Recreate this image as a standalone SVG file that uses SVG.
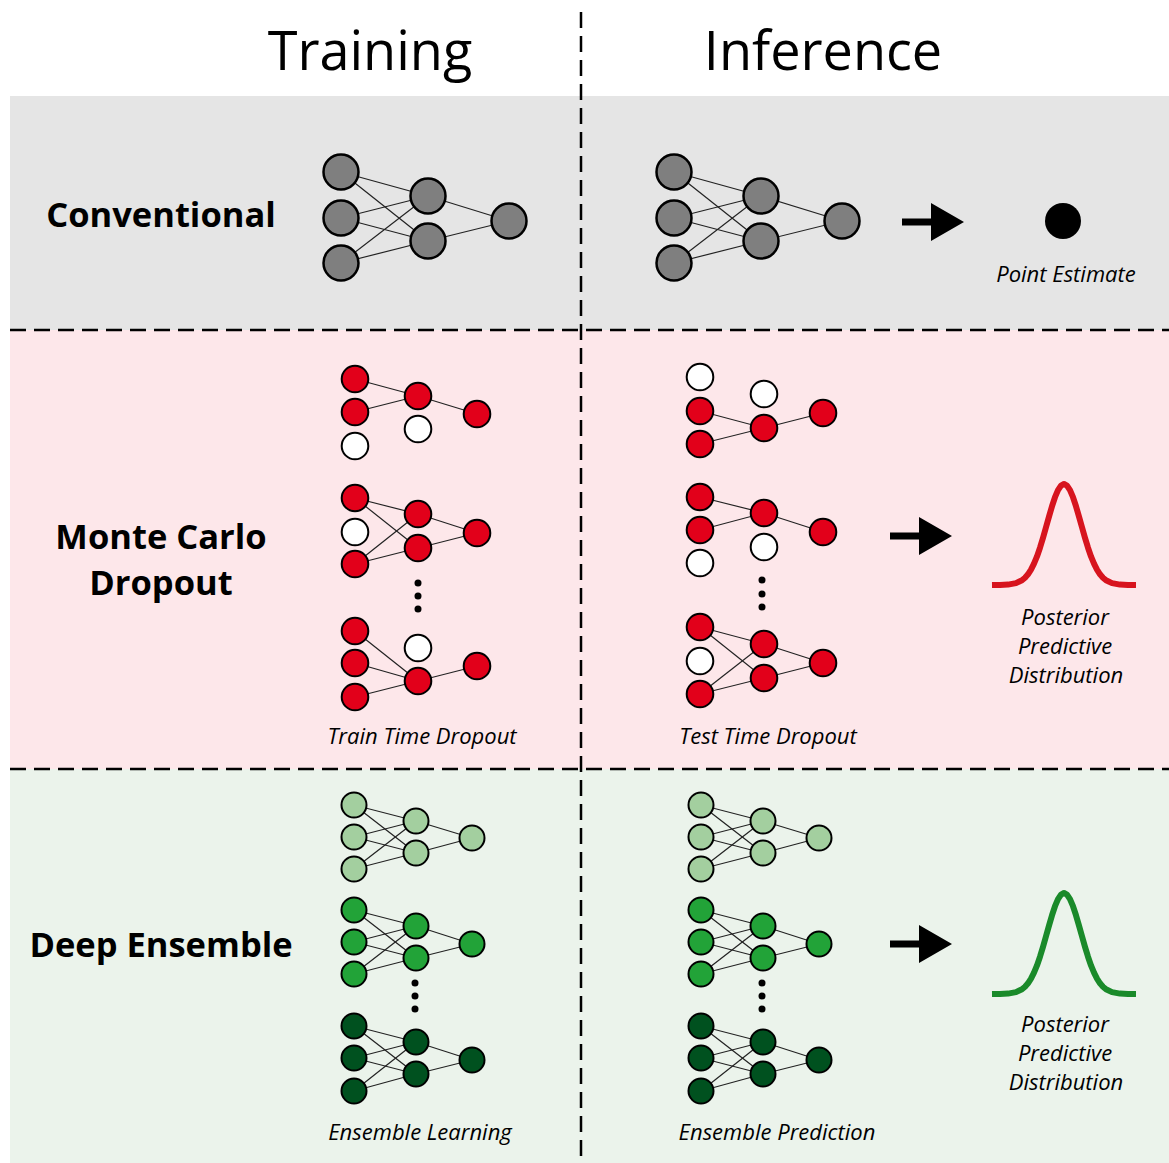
<svg xmlns="http://www.w3.org/2000/svg" xmlns:xlink="http://www.w3.org/1999/xlink" width="1169" height="1163" viewBox="0 0 1169 1163">
  <style>
    .e { stroke: #222; stroke-width: 1.2; fill: none; }
    .n { stroke: #000; stroke-width: 2; }
    .big { stroke-width: 2.5; }
    .gray { fill: #7f7f7f; }
    .red { fill: #e2001a; }
    .off { fill: #ffffff; }
    .g1 { fill: #a3cf9f; }
    .g2 { fill: #22a338; }
    .g3 { fill: #00511f; }
    .dash { stroke: #000; stroke-width: 2.5; stroke-dasharray: 16 8; fill: none; }
    .title { font-family: "Open Sans", "DejaVu Sans", sans-serif; font-size: 54px; fill: #000; text-anchor: middle; }
    .row { font-family: "Open Sans", "DejaVu Sans", sans-serif; font-weight: bold; font-size: 34.5px; fill: #000; text-anchor: middle; }
    .cap { font-family: "Open Sans", "DejaVu Sans", sans-serif; font-style: italic; font-size: 22px; fill: #000; text-anchor: middle; }
    .bell { fill: none; stroke-width: 6; stroke-linejoin: round; stroke-linecap: butt; }
  </style>
  <defs>
    <!-- gaussian bump, origin at the centre of its baseline -->
    <path id="bell" d="M-72,0 L-64,-0.1 L-56,-0.4 L-48,-1.9 L-42,-4.8 L-39,-7.3 L-36,-10.7 L-33,-15.3 L-30,-21.3 L-27,-28.6 L-24,-37.3 L-21,-47.1 L-18,-57.7 L-15,-68.4 L-12,-78.7 L-9,-87.8 L-6,-94.9 L-3,-99.4 L0,-101 L3,-99.4 L6,-94.9 L9,-87.8 L12,-78.7 L15,-68.4 L18,-57.7 L21,-47.1 L24,-37.3 L27,-28.6 L30,-21.3 L33,-15.3 L36,-10.7 L39,-7.3 L42,-4.8 L48,-1.9 L56,-0.4 L64,-0.1 L72,0"/>
    <!-- block arrow, tip at origin -->
    <path id="arrow" d="M-62,-3.5 L-33,-3.5 L-33,-19 L0,0 L-33,19 L-33,3.5 L-62,3.5 Z"/>
  </defs>

  <!-- background bands -->
  <rect x="0" y="0" width="1169" height="1163" fill="#ffffff"/>
  <rect x="10" y="96" width="1159" height="234" fill="#e5e5e5"/>
  <rect x="10" y="330" width="1159" height="439" fill="#fde7ea"/>
  <rect x="10" y="769" width="1159" height="394" fill="#ebf3eb"/>

  <!-- separators -->
  <g id="separators">
    <line class="dash" x1="581" y1="12" x2="581" y2="1163"/>
    <line class="dash" x1="10" y1="330" x2="1169" y2="330"/>
    <line class="dash" x1="10" y1="769" x2="1169" y2="769"/>
  </g>

  <!-- column headings -->
  <text class="title" x="370" y="70">Training</text>
  <text class="title" x="823" y="70">Inference</text>

  <!-- row headings -->
  <text class="row" x="161" y="227">Conventional</text>
  <text class="row" x="161" y="549">Monte Carlo</text>
  <text class="row" x="161" y="595">Dropout</text>
  <text class="row" x="161" y="957">Deep Ensemble</text>

  <!-- network weights -->
  <g id="connectors">
    <!-- conventional, training -->
    <g class="e">
      <line x1="341" y1="172" x2="428" y2="196"/><line x1="341" y1="172" x2="428" y2="241"/>
      <line x1="341" y1="218" x2="428" y2="196"/><line x1="341" y1="218" x2="428" y2="241"/>
      <line x1="341" y1="263" x2="428" y2="196"/><line x1="341" y1="263" x2="428" y2="241"/>
      <line x1="428" y1="196" x2="509" y2="221"/><line x1="428" y1="241" x2="509" y2="221"/>
    </g>
    <!-- conventional, inference -->
    <g class="e">
      <line x1="674" y1="172" x2="761" y2="196"/><line x1="674" y1="172" x2="761" y2="241"/>
      <line x1="674" y1="218" x2="761" y2="196"/><line x1="674" y1="218" x2="761" y2="241"/>
      <line x1="674" y1="263" x2="761" y2="196"/><line x1="674" y1="263" x2="761" y2="241"/>
      <line x1="761" y1="196" x2="842" y2="221"/><line x1="761" y1="241" x2="842" y2="221"/>
    </g>
    <!-- dropout, training -->
    <g class="e">
      <line x1="355" y1="379" x2="418" y2="396"/><line x1="355" y1="412" x2="418" y2="396"/>
      <line x1="418" y1="396" x2="477" y2="414"/>
      <line x1="355" y1="498" x2="418" y2="514"/><line x1="355" y1="498" x2="418" y2="548"/>
      <line x1="355" y1="564" x2="418" y2="514"/><line x1="355" y1="564" x2="418" y2="548"/>
      <line x1="418" y1="514" x2="477" y2="533"/><line x1="418" y1="548" x2="477" y2="533"/>
      <line x1="355" y1="631" x2="418" y2="681"/><line x1="355" y1="663" x2="418" y2="681"/>
      <line x1="355" y1="697" x2="418" y2="681"/>
      <line x1="418" y1="681" x2="477" y2="666"/>
    </g>
    <!-- dropout, inference -->
    <g class="e">
      <line x1="700" y1="411" x2="764" y2="428"/><line x1="700" y1="444" x2="764" y2="428"/>
      <line x1="764" y1="428" x2="823" y2="413"/>
      <line x1="700" y1="497" x2="764" y2="513"/><line x1="700" y1="530" x2="764" y2="513"/>
      <line x1="764" y1="513" x2="823" y2="532"/>
      <line x1="700" y1="627" x2="764" y2="644"/><line x1="700" y1="627" x2="764" y2="678"/>
      <line x1="700" y1="694" x2="764" y2="644"/><line x1="700" y1="694" x2="764" y2="678"/>
      <line x1="764" y1="644" x2="823" y2="663"/><line x1="764" y1="678" x2="823" y2="663"/>
    </g>
    <!-- ensemble, training (three members) -->
    <g class="e" id="ens-edges">
      <line x1="354" y1="805" x2="416" y2="821"/><line x1="354" y1="805" x2="416" y2="853"/>
      <line x1="354" y1="837" x2="416" y2="821"/><line x1="354" y1="837" x2="416" y2="853"/>
      <line x1="354" y1="869" x2="416" y2="821"/><line x1="354" y1="869" x2="416" y2="853"/>
      <line x1="416" y1="821" x2="472" y2="838"/><line x1="416" y1="853" x2="472" y2="838"/>
      <line x1="354" y1="910" x2="416" y2="926"/><line x1="354" y1="910" x2="416" y2="958"/>
      <line x1="354" y1="942" x2="416" y2="926"/><line x1="354" y1="942" x2="416" y2="958"/>
      <line x1="354" y1="974" x2="416" y2="926"/><line x1="354" y1="974" x2="416" y2="958"/>
      <line x1="416" y1="926" x2="472" y2="944"/><line x1="416" y1="958" x2="472" y2="944"/>
      <line x1="354" y1="1026" x2="416" y2="1042"/><line x1="354" y1="1026" x2="416" y2="1074"/>
      <line x1="354" y1="1058" x2="416" y2="1042"/><line x1="354" y1="1058" x2="416" y2="1074"/>
      <line x1="354" y1="1091" x2="416" y2="1042"/><line x1="354" y1="1091" x2="416" y2="1074"/>
      <line x1="416" y1="1042" x2="472" y2="1060"/><line x1="416" y1="1074" x2="472" y2="1060"/>
    </g>
    <!-- ensemble, inference: same members shifted right -->
    <use xlink:href="#ens-edges" href="#ens-edges" x="347" y="0"/>
  </g>

  <!-- conventional networks -->
  <g id="conv-train">
    <circle class="n big gray" cx="341" cy="172" r="17.5"/>
    <circle class="n big gray" cx="341" cy="218" r="17.5"/>
    <circle class="n big gray" cx="341" cy="263" r="17.5"/>
    <circle class="n big gray" cx="428" cy="196" r="17.5"/>
    <circle class="n big gray" cx="428" cy="241" r="17.5"/>
    <circle class="n big gray" cx="509" cy="221" r="17.5"/>
  </g>
  <g id="conv-infer">
    <circle class="n big gray" cx="674" cy="172" r="17.5"/>
    <circle class="n big gray" cx="674" cy="218" r="17.5"/>
    <circle class="n big gray" cx="674" cy="263" r="17.5"/>
    <circle class="n big gray" cx="761" cy="196" r="17.5"/>
    <circle class="n big gray" cx="761" cy="241" r="17.5"/>
    <circle class="n big gray" cx="842" cy="221" r="17.5"/>
  </g>
  <g id="conv-output">
    <use xlink:href="#arrow" href="#arrow" x="964" y="222" fill="#000"/>
    <circle cx="1063" cy="221" r="18" fill="#000"/>
    <text class="cap" x="1066" y="282">Point Estimate</text>
  </g>

  <!-- dropout networks, training -->
  <g id="mc-train-1">
    <circle class="n red" cx="355" cy="379" r="13.3"/>
    <circle class="n red" cx="355" cy="412" r="13.3"/>
    <circle class="n off" cx="355" cy="446" r="13.3"/>
    <circle class="n red" cx="418" cy="396" r="13.3"/>
    <circle class="n off" cx="418" cy="429" r="13.3"/>
    <circle class="n red" cx="477" cy="414" r="13.3"/>
  </g>
  <g id="mc-train-2">
    <circle class="n red" cx="355" cy="498" r="13.3"/>
    <circle class="n off" cx="355" cy="532" r="13.3"/>
    <circle class="n red" cx="355" cy="564" r="13.3"/>
    <circle class="n red" cx="418" cy="514" r="13.3"/>
    <circle class="n red" cx="418" cy="548" r="13.3"/>
    <circle class="n red" cx="477" cy="533" r="13.3"/>
  </g>
  <g id="mc-train-dots">
    <circle cx="418" cy="583" r="3.5"/><circle cx="418" cy="596" r="3.5"/><circle cx="418" cy="609" r="3.5"/>
  </g>
  <g id="mc-train-3">
    <circle class="n red" cx="355" cy="631" r="13.3"/>
    <circle class="n red" cx="355" cy="663" r="13.3"/>
    <circle class="n red" cx="355" cy="697" r="13.3"/>
    <circle class="n off" cx="418" cy="648" r="13.3"/>
    <circle class="n red" cx="418" cy="681" r="13.3"/>
    <circle class="n red" cx="477" cy="666" r="13.3"/>
  </g>
  <text class="cap" x="422" y="744">Train Time Dropout</text>

  <!-- dropout networks, inference -->
  <g id="mc-infer-1">
    <circle class="n off" cx="700" cy="377" r="13.3"/>
    <circle class="n red" cx="700" cy="411" r="13.3"/>
    <circle class="n red" cx="700" cy="444" r="13.3"/>
    <circle class="n off" cx="764" cy="394" r="13.3"/>
    <circle class="n red" cx="764" cy="428" r="13.3"/>
    <circle class="n red" cx="823" cy="413" r="13.3"/>
  </g>
  <g id="mc-infer-2">
    <circle class="n red" cx="700" cy="497" r="13.3"/>
    <circle class="n red" cx="700" cy="530" r="13.3"/>
    <circle class="n off" cx="700" cy="563" r="13.3"/>
    <circle class="n red" cx="764" cy="513" r="13.3"/>
    <circle class="n off" cx="764" cy="547" r="13.3"/>
    <circle class="n red" cx="823" cy="532" r="13.3"/>
  </g>
  <g id="mc-infer-dots">
    <circle cx="762" cy="580" r="3.5"/><circle cx="762" cy="594" r="3.5"/><circle cx="762" cy="607" r="3.5"/>
  </g>
  <g id="mc-infer-3">
    <circle class="n red" cx="700" cy="627" r="13.3"/>
    <circle class="n off" cx="700" cy="661" r="13.3"/>
    <circle class="n red" cx="700" cy="694" r="13.3"/>
    <circle class="n red" cx="764" cy="644" r="13.3"/>
    <circle class="n red" cx="764" cy="678" r="13.3"/>
    <circle class="n red" cx="823" cy="663" r="13.3"/>
  </g>
  <text class="cap" x="768" y="744">Test Time Dropout</text>

  <g id="mc-output">
    <use xlink:href="#arrow" href="#arrow" x="952" y="536" fill="#000"/>
    <use xlink:href="#bell" href="#bell" x="1064" y="585" class="bell" stroke="#d7141e"/>
    <text class="cap" x="1065" y="625">Posterior</text>
    <text class="cap" x="1065" y="654">Predictive</text>
    <text class="cap" x="1066" y="683">Distribution</text>
  </g>

  <!-- ensemble members, training -->
  <g id="ens-train-1">
    <circle class="n g1" cx="354" cy="805" r="12.5"/>
    <circle class="n g1" cx="354" cy="837" r="12.5"/>
    <circle class="n g1" cx="354" cy="869" r="12.5"/>
    <circle class="n g1" cx="416" cy="821" r="12.5"/>
    <circle class="n g1" cx="416" cy="853" r="12.5"/>
    <circle class="n g1" cx="472" cy="838" r="12.5"/>
  </g>
  <g id="ens-train-2">
    <circle class="n g2" cx="354" cy="910" r="12.5"/>
    <circle class="n g2" cx="354" cy="942" r="12.5"/>
    <circle class="n g2" cx="354" cy="974" r="12.5"/>
    <circle class="n g2" cx="416" cy="926" r="12.5"/>
    <circle class="n g2" cx="416" cy="958" r="12.5"/>
    <circle class="n g2" cx="472" cy="944" r="12.5"/>
  </g>
  <g id="ens-train-dots">
    <circle cx="415" cy="983" r="3.5"/><circle cx="415" cy="996" r="3.5"/><circle cx="415" cy="1009" r="3.5"/>
  </g>
  <g id="ens-train-3">
    <circle class="n g3" cx="354" cy="1026" r="12.5"/>
    <circle class="n g3" cx="354" cy="1058" r="12.5"/>
    <circle class="n g3" cx="354" cy="1091" r="12.5"/>
    <circle class="n g3" cx="416" cy="1042" r="12.5"/>
    <circle class="n g3" cx="416" cy="1074" r="12.5"/>
    <circle class="n g3" cx="472" cy="1060" r="12.5"/>
  </g>
  <text class="cap" x="420" y="1140">Ensemble Learning</text>

  <!-- ensemble members, inference -->
  <g id="ens-infer-1">
    <circle class="n g1" cx="701" cy="805" r="12.5"/>
    <circle class="n g1" cx="701" cy="837" r="12.5"/>
    <circle class="n g1" cx="701" cy="869" r="12.5"/>
    <circle class="n g1" cx="763" cy="821" r="12.5"/>
    <circle class="n g1" cx="763" cy="853" r="12.5"/>
    <circle class="n g1" cx="819" cy="838" r="12.5"/>
  </g>
  <g id="ens-infer-2">
    <circle class="n g2" cx="701" cy="910" r="12.5"/>
    <circle class="n g2" cx="701" cy="942" r="12.5"/>
    <circle class="n g2" cx="701" cy="974" r="12.5"/>
    <circle class="n g2" cx="763" cy="926" r="12.5"/>
    <circle class="n g2" cx="763" cy="958" r="12.5"/>
    <circle class="n g2" cx="819" cy="944" r="12.5"/>
  </g>
  <g id="ens-infer-dots">
    <circle cx="762" cy="983" r="3.5"/><circle cx="762" cy="996" r="3.5"/><circle cx="762" cy="1009" r="3.5"/>
  </g>
  <g id="ens-infer-3">
    <circle class="n g3" cx="701" cy="1026" r="12.5"/>
    <circle class="n g3" cx="701" cy="1058" r="12.5"/>
    <circle class="n g3" cx="701" cy="1091" r="12.5"/>
    <circle class="n g3" cx="763" cy="1042" r="12.5"/>
    <circle class="n g3" cx="763" cy="1074" r="12.5"/>
    <circle class="n g3" cx="819" cy="1060" r="12.5"/>
  </g>
  <text class="cap" x="777" y="1140">Ensemble Prediction</text>

  <g id="ens-output">
    <use xlink:href="#arrow" href="#arrow" x="952" y="944" fill="#000"/>
    <use xlink:href="#bell" href="#bell" x="1064" y="994" class="bell" stroke="#1a8a2a"/>
    <text class="cap" x="1065" y="1032">Posterior</text>
    <text class="cap" x="1065" y="1061">Predictive</text>
    <text class="cap" x="1066" y="1090">Distribution</text>
  </g>
</svg>
